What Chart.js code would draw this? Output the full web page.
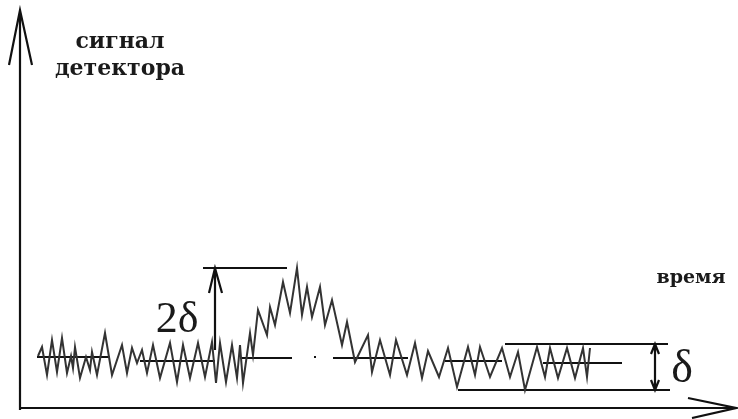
<!DOCTYPE html>
<html>
<head>
<meta charset="utf-8">
<script src="https://cdn.jsdelivr.net/npm/chart.js@4"></script>
<style>
  html, body { margin: 0; padding: 0; background: #fff; }
  #wrap { width: 738px; height: 419px; }
</style>
</head>
<body>
<div id="wrap"><canvas id="myChart"></canvas></div>
<script>
const signalTime = [38, 42, 47, 52, 57, 62, 67, 71, 73, 75, 80, 86, 90, 92, 97, 105, 112, 122, 127, 132, 137, 142, 147, 153, 160, 170, 177, 183, 190, 198, 205, 212, 216, 220, 226, 232, 237, 240, 243, 250, 253, 258, 267, 270, 275, 283, 290, 297, 302, 307, 312, 320, 325, 332, 342, 347, 355, 368, 372, 380, 390, 396, 407, 415, 422, 428, 439, 448, 457, 468, 475, 480, 490, 502, 510, 518, 525, 537, 545, 550, 558, 567, 575, 583, 587, 590];
const signalValue = [52, 61, 33, 68, 36, 70, 35, 52, 40, 61, 30, 51, 38, 56, 33, 75, 33, 63, 35, 60, 45, 58, 35, 63, 30, 65, 26, 63, 30, 65, 31, 66, 25, 65, 26, 63, 30, 63, 25, 75, 53, 98, 73, 101, 83, 126, 95, 140, 93, 121, 91, 121, 83, 108, 63, 86, 46, 73, 36, 68, 33, 68, 33, 65, 30, 57, 31, 60, 21, 61, 33, 61, 31, 60, 31, 56, 18, 61, 31, 60, 30, 60, 30, 60, 31, 60];

// Hilfslinien (Mittelwert, 2δ, δ) – Segmente getrennt durch null
const levelTime  = [37, 110, null, 140, 215, null, 240, 292, null, 314, 316, null, 333, 408, null, 445, 502, null, 543, 622, null, 203, 287, null, 505, 668, null, 458, 670];
const levelValue = [51, 51, null, 47, 47, null, 50, 50, null, 51, 51, null, 50, 50, null, 47, 47, null, 45, 45, null, 140, 140, null, 64, 64, null, 18, 18];

// Pfeile (Achsen und Bemaßung)
const arrowTime  = [20, 20, null, 9, 20, 32, null, 19, 736, null, 688, 736, 692, null, 215, 215, null, 209, 215, 222, null, 655, 655, null, 651, 655, 659, null, 651, 655, 659];
const arrowValue = [-2, 398, null, 343, 398, 343, null, 0, 0, null, 10, 0, -10, null, 58, 140, null, 115, 140, 115, null, 18, 64, null, 54, 64, 54, null, 28, 18, 28];

// Beschriftungen
const labelText  = ["сигнал", "детектора", "время", "2δ", "δ"];
const labelTime  = [120, 120, 691, 177, 682];
const labelValue = [360, 333, 125, 76, 26];
const labelFont  = ["bold 22px 'DejaVu Serif'", "bold 22px 'DejaVu Serif'", "bold 19px 'DejaVu Serif'", "44px 'Liberation Serif'", "46px 'Liberation Serif'"];

function toPoints(xs, ys) {
    return xs.map((x, i) => ({ x: x, y: ys[i] }));
}

const labelPlugin = {
    id: 'labels',
    afterDatasetsDraw(chart) {
        const c = chart.ctx;
        const xs = chart.scales.x, ys = chart.scales.y;
        c.save();
        c.fillStyle = '#1a1a1a';
        c.textAlign = 'center';
        c.textBaseline = 'alphabetic';
        labelText.forEach((t, i) => {
            c.font = labelFont[i];
            c.fillText(t, xs.getPixelForValue(labelTime[i]), ys.getPixelForValue(labelValue[i]));
        });
        c.restore();
    }
};

const ctx = document.getElementById('myChart').getContext('2d');
let chart = new Chart(ctx, {
    type: 'line',
    data: {
        datasets: [
            {
                data: toPoints(signalTime, signalValue),
                borderColor: '#333',
                borderWidth: 2,
                pointRadius: 0,
                tension: 0
            },
            {
                data: toPoints(levelTime, levelValue),
                borderColor: '#111',
                borderWidth: 2,
                pointRadius: 0,
                spanGaps: false
            },
            {
                data: toPoints(arrowTime, arrowValue),
                borderColor: '#111',
                borderWidth: 2.2,
                pointRadius: 0,
                spanGaps: false
            }
        ]
    },
    options: {
        responsive: true,
        maintainAspectRatio: false,
        animation: false,
        layout: { padding: 0 },
        plugins: { legend: { display: false }, tooltip: { enabled: false } },
        scales: {
            x: { type: 'linear', min: 0, max: 738, display: false },
            y: { type: 'linear', min: -11, max: 408, display: false }
        }
    },
    plugins: [labelPlugin]
});
</script>
</body>
</html>
